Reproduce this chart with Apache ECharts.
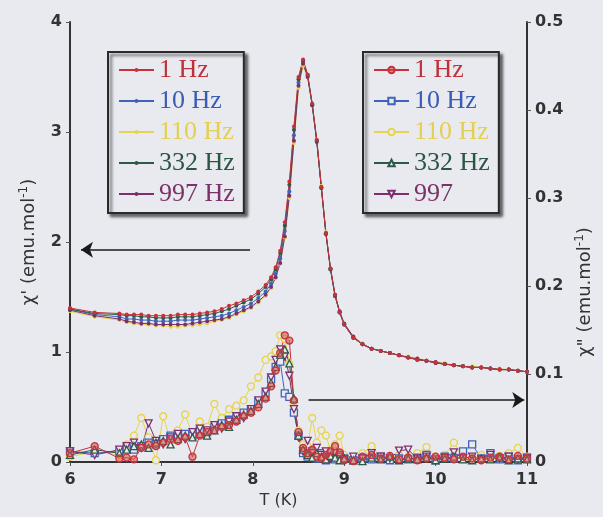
<!DOCTYPE html>
<html>
<head>
<meta charset="utf-8">
<script src="https://cdn.jsdelivr.net/npm/echarts@6/dist/echarts.min.js"></script>
<style>
  html, body { margin: 0; padding: 0; background: #e9eaf0; }
  #chart { width: 603px; height: 517px; }
</style>
</head>
<body>
<div id="chart"></div>
<script>
// Temperature points (K), shared by every frequency
const temps = [6.00, 6.27, 6.54, 6.62, 6.70, 6.78, 6.86, 6.94, 7.02, 7.10, 7.18, 7.26, 7.34, 7.42, 7.50, 7.58, 7.66, 7.74, 7.82, 7.90,
  7.98, 8.06, 8.14, 8.20, 8.25, 8.30, 8.35, 8.40, 8.45, 8.50, 8.55, 8.60, 8.65, 8.70, 8.75, 8.80, 8.85, 8.90, 8.95,
  9.00, 9.10, 9.20, 9.30, 9.40, 9.50, 9.60, 9.70, 9.80, 9.90, 10.00, 10.10, 10.20, 10.30, 10.40, 10.50, 10.60, 10.70, 10.80, 10.90, 11.00];

// In-phase susceptibility chi' (emu/mol)
const chiRe1 = [1.40, 1.36, 1.35, 1.34, 1.34, 1.34, 1.33, 1.33, 1.33, 1.33, 1.34, 1.34, 1.34, 1.35, 1.36, 1.37, 1.39, 1.42, 1.44, 1.47,
  1.50, 1.55, 1.61, 1.68, 1.77, 1.92, 2.18, 2.55, 3.05, 3.50, 3.66, 3.52, 3.26, 2.93, 2.50, 2.08, 1.76, 1.52, 1.36,
  1.25, 1.13, 1.07, 1.03, 1.01, 0.99, 0.97, 0.95, 0.93, 0.92, 0.90, 0.89, 0.88, 0.87, 0.86, 0.86, 0.85, 0.84, 0.84, 0.83, 0.82];
const chiRe10 = [1.39, 1.34, 1.32, 1.30, 1.30, 1.29, 1.29, 1.28, 1.28, 1.28, 1.29, 1.29, 1.29, 1.30, 1.31, 1.32, 1.33, 1.35, 1.38, 1.41,
  1.44, 1.49, 1.55, 1.62, 1.71, 1.85, 2.10, 2.46, 2.97, 3.45, 3.64, 3.51, 3.25, 2.92, 2.50, 2.08, 1.75, 1.51, 1.36,
  1.25, 1.13, 1.07, 1.03, 1.01, 0.99, 0.97, 0.95, 0.93, 0.92, 0.90, 0.89, 0.88, 0.87, 0.86, 0.86, 0.85, 0.84, 0.84, 0.83, 0.82];
const chiRe110 = [1.37, 1.32, 1.29, 1.27, 1.26, 1.25, 1.25, 1.24, 1.24, 1.23, 1.23, 1.24, 1.24, 1.25, 1.26, 1.28, 1.29, 1.31, 1.34, 1.37,
  1.40, 1.45, 1.51, 1.58, 1.67, 1.80, 2.04, 2.40, 2.90, 3.40, 3.60, 3.50, 3.25, 2.93, 2.51, 2.09, 1.76, 1.52, 1.37,
  1.26, 1.14, 1.08, 1.03, 1.01, 0.99, 0.97, 0.96, 0.94, 0.92, 0.91, 0.90, 0.88, 0.87, 0.87, 0.86, 0.85, 0.85, 0.84, 0.83, 0.82];
const chiRe332 = [1.39, 1.35, 1.34, 1.33, 1.33, 1.32, 1.32, 1.31, 1.31, 1.31, 1.32, 1.32, 1.32, 1.33, 1.34, 1.35, 1.37, 1.39, 1.42, 1.45,
  1.48, 1.53, 1.59, 1.66, 1.75, 1.90, 2.15, 2.52, 3.02, 3.48, 3.65, 3.52, 3.25, 2.92, 2.49, 2.07, 1.75, 1.51, 1.36,
  1.25, 1.13, 1.07, 1.03, 1.01, 0.99, 0.97, 0.95, 0.93, 0.92, 0.90, 0.89, 0.88, 0.87, 0.86, 0.86, 0.85, 0.84, 0.84, 0.83, 0.82];
const chiRe997 = [1.38, 1.33, 1.30, 1.28, 1.27, 1.26, 1.26, 1.25, 1.25, 1.25, 1.25, 1.25, 1.26, 1.27, 1.28, 1.29, 1.30, 1.32, 1.35, 1.38,
  1.41, 1.46, 1.52, 1.59, 1.68, 1.81, 2.05, 2.42, 2.92, 3.42, 3.62, 3.50, 3.24, 2.91, 2.49, 2.08, 1.76, 1.52, 1.37,
  1.26, 1.14, 1.07, 1.03, 1.01, 0.99, 0.97, 0.95, 0.94, 0.92, 0.91, 0.89, 0.88, 0.87, 0.86, 0.86, 0.85, 0.84, 0.84, 0.83, 0.82];

// Out-of-phase susceptibility chi'' (emu/mol)
const chiIm1 = [0.010, 0.018, 0.004, 0.005, 0.003, 0.016, 0.020, 0.018, 0.022, 0.026, 0.024, 0.028, 0.006, 0.030, 0.034, 0.036, 0.040, 0.042, 0.046, 0.052,
  0.056, 0.062, 0.072, 0.086, 0.104, 0.124, 0.144, 0.138, 0.070, 0.034, 0.016, 0.010, 0.014, 0.006, 0.004, 0.008, 0.012, 0.018, 0.011,
  0.002, 0.001, 0.006, 0.008, 0.004, 0.007, 0.003, 0.005, 0.002, 0.004, 0.006, 0.005, 0.003, 0.006, 0.004, 0.002, 0.005, 0.006, 0.003, 0.007, 0.004];
const chiIm10 = [0.012, 0.010, 0.012, 0.016, 0.014, 0.018, 0.022, 0.020, 0.026, 0.030, 0.028, 0.032, 0.030, 0.036, 0.034, 0.040, 0.044, 0.048, 0.050, 0.056,
  0.060, 0.068, 0.078, 0.094, 0.108, 0.114, 0.078, 0.074, 0.056, 0.030, 0.010, 0.006, 0.012, 0.004, 0.010, 0.002, 0.006, 0.003, 0.008,
  0.004, 0.002, 0.004, 0.003, 0.006, 0.002, 0.004, 0.003, 0.005, 0.008, 0.002, 0.006, 0.004, 0.012, 0.020, 0.004, 0.010, 0.003, 0.006, 0.002, 0.004];
const chiIm110 = [0.006, 0.012, 0.008, 0.020, 0.030, 0.050, 0.028, 0.002, 0.052, 0.024, 0.036, 0.054, 0.030, 0.046, 0.040, 0.066, 0.050, 0.060, 0.064, 0.070,
  0.086, 0.096, 0.116, 0.120, 0.126, 0.144, 0.140, 0.112, 0.064, 0.036, 0.020, 0.018, 0.050, 0.022, 0.036, 0.030, 0.014, 0.020, 0.030,
  0.008, 0.004, 0.010, 0.018, 0.006, 0.004, 0.008, 0.006, 0.010, 0.017, 0.006, 0.008, 0.022, 0.006, 0.004, 0.008, 0.005, 0.007, 0.010, 0.016, 0.006];
const chiIm332 = [0.008, 0.014, 0.010, 0.014, 0.018, 0.020, 0.016, 0.022, 0.024, 0.020, 0.026, 0.030, 0.028, 0.032, 0.030, 0.036, 0.042, 0.040, 0.048, 0.054,
  0.058, 0.066, 0.074, 0.090, 0.108, 0.122, 0.128, 0.112, 0.072, 0.030, 0.014, 0.008, 0.005, 0.010, 0.006, 0.003, 0.007, 0.005, 0.002,
  0.004, 0.002, 0.001, 0.005, 0.003, 0.006, 0.002, 0.004, 0.003, 0.005, 0.002, 0.004, 0.006, 0.003, 0.002, 0.004, 0.003, 0.005, 0.002, 0.004, 0.003];
const chiIm997 = [0.012, 0.008, 0.014, 0.018, 0.022, 0.016, 0.044, 0.024, 0.020, 0.028, 0.032, 0.026, 0.034, 0.038, 0.036, 0.042, 0.038, 0.046, 0.052, 0.050,
  0.060, 0.070, 0.080, 0.096, 0.116, 0.128, 0.120, 0.098, 0.060, 0.028, 0.012, 0.024, 0.010, 0.016, 0.008, 0.012, 0.004, 0.010, 0.006,
  0.003, 0.006, 0.004, 0.010, 0.006, 0.004, 0.013, 0.014, 0.004, 0.006, 0.003, 0.005, 0.011, 0.004, 0.006, 0.003, 0.008, 0.004, 0.006, 0.003, 0.005];

const reLabels = ['1 Hz', '10 Hz', '110 Hz', '332 Hz', '997 Hz'];
const imLabels = ['1 Hz', '10 Hz', '110 Hz', '332 Hz', '997'];
const colors = ['#c8303c', '#3f63b8', '#e6d44c', '#2c5a46', '#7c2f6c'];
const textColors = ['#c0303a', '#3a5cb4', '#e4cf52', '#2a5642', '#7a3268'];
const imSymbols = ['circle', 'rect', 'circle', 'triangle', 'triangle'];
const imRotate = [0, 0, 0, 0, 180];

const reData = [chiRe1, chiRe10, chiRe110, chiRe332, chiRe997];
const imData = [chiIm1, chiIm10, chiIm110, chiIm332, chiIm997];
const bg = '#e9eaf0';
const IM_PREFIX = 'χ″ ';

const pairs = vals => temps.map((t, i) => [t, vals[i]]);

const series = [];
// draw order: yellow, blue, purple, green, red on top
const order = [2, 1, 4, 3, 0];
order.forEach(k => {
  series.push({
    name: IM_PREFIX + imLabels[k],
    type: 'line',
    yAxisIndex: 1,
    data: pairs(imData[k]),
    symbol: imSymbols[k],
    symbolRotate: imRotate[k],
    symbolSize: 7,
    lineStyle: { color: colors[k], width: 1 },
    itemStyle: {
      color: k === 0 ? 'rgba(210,80,70,0.55)' : bg,
      borderColor: colors[k],
      borderWidth: 1.3
    },
    z: 2
  });
});
order.forEach(k => {
  series.push({
    name: reLabels[k],
    type: 'line',
    yAxisIndex: 0,
    data: pairs(reData[k]),
    symbol: 'circle',
    symbolSize: 4,
    lineStyle: { color: colors[k], width: 1 },
    itemStyle: { color: colors[k] },
    z: 3
  });
});

// Arrows pointing each curve family to its axis
const arrowLine = (yIdx, from, to) => ({
  type: 'line', yAxisIndex: yIdx, data: [], silent: true,
  markLine: {
    silent: true, animation: false,
    symbol: ['none', 'arrow'], symbolSize: 12,
    label: { show: false },
    lineStyle: { color: '#1a1a1a', width: 1.5, type: 'solid' },
    data: [[{ coord: from }, { coord: to }]]
  }
});
series.push(arrowLine(0, [7.97, 1.93], [6.12, 1.93]));
series.push(arrowLine(1, [8.61, 0.0705], [10.97, 0.0705]));

const tickFont = { color: '#333', fontFamily: 'DejaVu Sans', fontWeight: 'bold', fontSize: 16 };
const nameFont = {
  color: '#333', fontFamily: 'DejaVu Sans', fontSize: 18,
  rich: { sup: { fontSize: 12, padding: [0, 0, 10, 0], color: '#333', fontFamily: 'DejaVu Sans' } }
};

const legendBase = {
  orient: 'vertical',
  top: 52,
  padding: [5, 9, 6, 10],
  itemWidth: 35,
  itemGap: 5,
  selectedMode: false,
  backgroundColor: bg,
  borderColor: '#2a2a2a',
  borderWidth: 2,
  shadowColor: 'rgba(0,0,0,0.55)',
  shadowBlur: 3,
  shadowOffsetX: 3,
  shadowOffsetY: 3,
  textStyle: { fontFamily: 'Liberation Serif', fontSize: 26, lineHeight: 25 }
};

const chart = echarts.init(document.getElementById('chart'));
chart.setOption({
  backgroundColor: bg,
  animation: false,
  grid: { left: 70, right: 76, top: 22, bottom: 55, containLabel: false, outerBoundsMode: 'none' },
  legend: [
    Object.assign({}, legendBase, {
      left: 108,
      itemHeight: 5,
      data: reLabels.map((n, k) => ({ name: n, textStyle: { color: textColors[k] } }))
    }),
    Object.assign({}, legendBase, {
      left: 363,
      itemHeight: 8,
      formatter: n => n.replace(IM_PREFIX, ''),
      data: imLabels.map((n, k) => ({ name: IM_PREFIX + n, textStyle: { color: textColors[k] } }))
    })
  ],
  xAxis: {
    type: 'value', min: 6, max: 11, interval: 1,
    name: 'T (K)', nameLocation: 'middle', nameGap: 30,
    nameTextStyle: { color: '#333', fontFamily: 'DejaVu Sans', fontSize: 16, padding: [0, 40, 0, 0] },
    axisLine: { lineStyle: { color: '#333', width: 2 } },
    axisTick: { show: true, length: 4, lineStyle: { color: '#555' } },
    axisLabel: Object.assign({ margin: 10 }, tickFont),
    splitLine: { show: false }
  },
  yAxis: [
    {
      type: 'value', min: 0, max: 4, interval: 1, position: 'left',
      name: "χ' (emu.mol{sup|-1})", nameLocation: 'middle', nameGap: 30, nameRotate: 90,
      nameTextStyle: nameFont,
      axisLine: { show: true, lineStyle: { color: '#333', width: 2 } },
      axisTick: { show: true, length: 4, lineStyle: { color: '#555' } },
      axisLabel: Object.assign({ margin: 8 }, tickFont),
      splitLine: { show: false }
    },
    {
      type: 'value', min: 0, max: 0.5, interval: 0.1, position: 'right',
      name: 'χ" (emu.mol{sup|-1})', nameLocation: 'middle', nameGap: 45, nameRotate: 90,
      nameTextStyle: Object.assign({}, nameFont, { padding: [0, 100, 0, 0] }),
      axisLine: { show: true, lineStyle: { color: '#333', width: 2 } },
      axisTick: { show: true, length: 4, lineStyle: { color: '#555' } },
      axisLabel: Object.assign({ margin: 8 }, tickFont),
      splitLine: { show: false }
    }
  ],
  series: series
});
</script>
</body>
</html>
